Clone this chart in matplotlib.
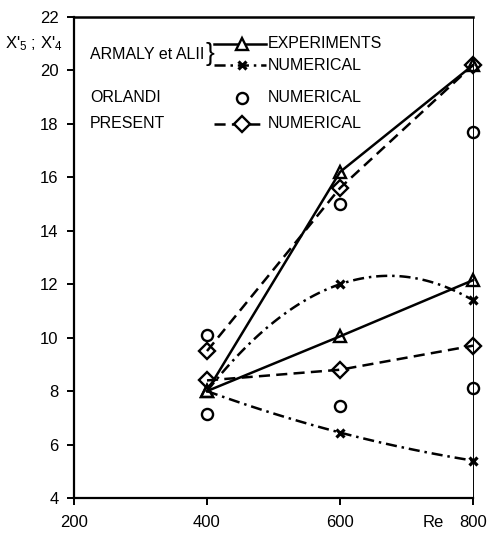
import numpy as np
import matplotlib
matplotlib.use("Agg")
import matplotlib.pyplot as plt

plt.rcParams['font.family'] = ['Liberation Sans', 'DejaVu Sans']
plt.rcParams['mathtext.fontset'] = 'custom'
plt.rcParams['mathtext.rm'] = 'Liberation Sans'
plt.rcParams['mathtext.it'] = 'Liberation Sans'
plt.rcParams['lines.scale_dashes'] = False

# ---- data ----
re = [400, 600, 800]
exp_upper = [8.0, 16.2, 20.2]
exp_lower = [8.0, 10.05, 12.15]
armaly_num_upper = [8.0, 12.0, 11.4]
armaly_num_lower = [8.0, 6.45, 5.4]
orlandi_upper = [10.1, 15.0, 17.7]
orlandi_lower = [7.15, 7.45, 8.1]
present_upper = [9.5, 15.6, 20.2]
present_lower = [8.4, 8.8, 9.7]

xticks = [200, 400, 600, 800]
yticks = [4, 6, 8, 10, 12, 14, 16, 18, 20, 22]

DASH = (0, (8, 4.5))
DASHDOT = (0, (8, 3.5, 1.8, 3.5))
LW = 1.8
MEW = 1.7

fig = plt.figure(figsize=(4.89, 5.35), dpi=100)
ax = fig.add_axes([74/489, 1-498/535, (473-74)/489, (498-17)/535])

def smooth(xs, ys):
    c = np.polyfit(xs, ys, 2)
    xx = np.linspace(xs[0], xs[-1], 100)
    return xx, np.polyval(c, xx)

# experiments (solid, triangles)
for ys in (exp_upper, exp_lower):
    ax.plot(re, ys, color='black', lw=LW, ls='-', marker='^', ms=9,
            mfc='none', mec='black', mew=MEW, clip_on=False)

# Armaly numerical (dash-dot, x)
for ys in (armaly_num_upper, armaly_num_lower):
    xx, yy = smooth(re, ys)
    ax.plot(xx, yy, color='black', lw=LW, ls=DASHDOT, clip_on=False)
    ax.plot(re[1:], ys[1:], ls='none', marker='x', ms=6, mec='black', mew=2.3,
            clip_on=False)

# Orlandi (circles)
for ys in (orlandi_upper, orlandi_lower):
    ax.plot(re, ys, ls='none', marker='o', ms=8, mfc='none', mec='black', mew=MEW,
            clip_on=False)

# Present (dashed, diamonds)
for ys in (present_upper, present_lower):
    ax.plot(re, ys, color='black', lw=LW, ls=DASH, marker='D', ms=8,
            mfc='none', mec='black', mew=MEW, clip_on=False)

ax.set_xlim(200, 800)
ax.set_ylim(4, 22)
ax.set_xticks(xticks)
ax.set_yticks(yticks)
ax.tick_params(direction='out', length=5, width=1.4, labelsize=12, pad=6)
ax.tick_params(axis='x', pad=7)
ax.spines['left'].set_linewidth(1.6)
ax.spines['bottom'].set_linewidth(1.6)
ax.spines['top'].set_linewidth(1.8)
ax.spines['right'].set_linewidth(0.7)

# y label
ax.text(-11/399, 0.945, r"X$'_5$ ; X$'_4$", transform=ax.transAxes, ha='right',
        va='center', fontsize=12)
# Re label
ax.text(740, 4, "Re", ha='center', va='top', fontsize=12,
        transform=ax.transData + matplotlib.transforms.ScaledTranslation(0, -12/72, fig.dpi_scale_trans))

# legend block
FS = 11.5
rows = [21.0, 20.2, 18.97, 18.0]
x_lab = 224
x_l0, x_l1, x_m = 410, 489, 452
x_txt = 492
ax.text(x_lab, 20.6, "ARMALY et ALII", fontsize=FS, va='center', ha='left')
ax.text(x_lab, rows[2], "ORLANDI", fontsize=FS, va='center', ha='left')
ax.text(x_lab, rows[3], "PRESENT", fontsize=FS, va='center', ha='left')
ax.text(405, 20.6, "}", fontsize=19, va='center', ha='center', fontweight='light')

ax.plot([x_l0, x_l1], [rows[0]] * 2, color='black', lw=LW)
ax.plot([x_m], [rows[0]], marker='^', ms=9, mfc='white', mec='black', mew=MEW)
ax.plot([x_l0, x_l1], [rows[1]] * 2, color='black', lw=LW, ls=DASHDOT)
ax.plot([x_m], [rows[1]], marker='x', ms=6, mec='black', mew=2.3, ls='none')
ax.plot([x_m], [rows[2]], marker='o', ms=8, mfc='none', mec='black', mew=MEW)
ax.plot([x_l0, x_l1], [rows[3]] * 2, color='black', lw=LW, ls=DASH)
ax.plot([x_m], [rows[3]], marker='D', ms=8, mfc='white', mec='black', mew=MEW)
ax.text(x_txt, rows[0], "EXPERIMENTS", fontsize=FS, va='center', ha='left')
for r in rows[1:]:
    ax.text(x_txt, r, "NUMERICAL", fontsize=FS, va='center', ha='left')

fig.savefig("out.png", dpi=100)
